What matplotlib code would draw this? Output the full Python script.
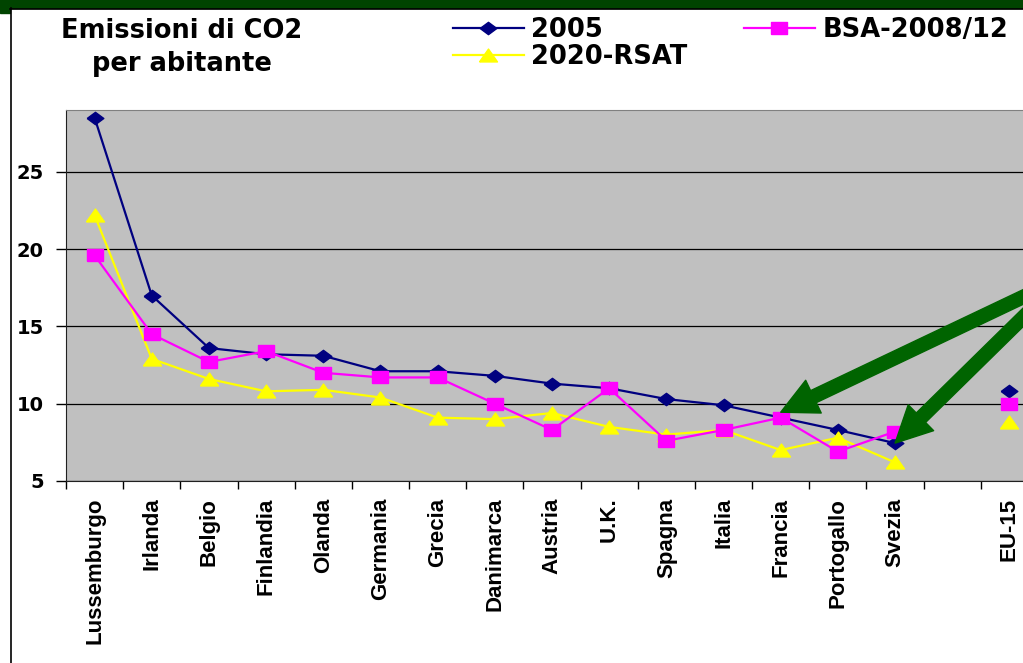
import numpy as np
import matplotlib.pyplot as plt
from matplotlib.patches import Rectangle
from matplotlib.lines import Line2D

paesi = ["Lussemburgo", "Irlanda", "Belgio", "Finlandia", "Olanda", "Germania",
         "Grecia", "Danimarca", "Austria", "U.K.", "Spagna", "Italia", "Francia",
         "Portogallo", "Svezia", "", "EU-15"]
v2005 = [28.5, 17.0, 13.6, 13.2, 13.1, 12.1, 12.1, 11.8, 11.3, 11.0, 10.3, 9.9,
         9.1, 8.3, 7.45, np.nan, 10.8]
bsa = [19.6, 14.5, 12.7, 13.4, 12.0, 11.7, 11.7, 10.0, 8.3, 11.0, 7.6, 8.3,
       9.1, 6.9, 8.2, np.nan, 10.0]
rsat = [22.2, 12.9, 11.6, 10.8, 10.9, 10.4, 9.1, 9.0, 9.4, 8.5, 8.0, 8.3,
        7.0, 7.8, 6.2, np.nan, 8.8]

plt.rcParams['font.family'] = ['Liberation Sans', 'DejaVu Sans']
largo = ['DejaVu Sans']  # testi spaziati (titolo, legenda, asse y)

# markers a bit wider than tall, like the original picture
diam = [(-1.35, 0), (0, 1), (1.35, 0), (0, -1), (-1.35, 0)]
quad = [(-1.35, -1), (1.35, -1), (1.35, 1), (-1.35, 1), (-1.35, -1)]
tri = [(-1.4, -1), (1.4, -1), (0, 1), (-1.4, -1)]

fig = plt.figure(figsize=(10.23, 6.63), dpi=100)
W, H = 1023, 663

# cornice verde in alto + bordo nero
fig.patches.append(Rectangle((0, 1 - 8 / H), 1, 8 / H, transform=fig.transFigure,
                             color='#004400', zorder=0))
fig.patches.append(Rectangle((0, 1 - 13 / H), 10 / W, 13 / H, transform=fig.transFigure,
                             color='#004400', zorder=0))
fig.lines.append(Line2D([10.5 / W, 10.5 / W], [0, 1 - 8 / H], transform=fig.transFigure,
                        color='black', lw=1.2))
fig.lines.append(Line2D([10 / W, 1], [1 - 8.5 / H, 1 - 8.5 / H], transform=fig.transFigure,
                        color='black', lw=1.2))

ax = fig.add_axes([66 / W, 1 - 481 / H, 972 / W, 371 / H])
ax.set_facecolor('#C0C0C0')

x = np.arange(len(paesi))
ax.plot(x, v2005, color='#000080', lw=1.6, marker=diam, ms=12, label='2005', zorder=3)
ax.plot(x, rsat, color='#FFFF00', lw=1.6, marker=tri, ms=13, label='2020-RSAT', zorder=4)
ax.plot(x, bsa, color='#FF00FF', lw=1.6, marker=quad, ms=12, label='BSA-2008/12', zorder=5)

ax.set_xlim(-0.5, len(paesi) - 0.5)
ax.set_ylim(5, 29)
ax.set_yticks([5, 10, 15, 20, 25])
ax.yaxis.grid(True, color='black', lw=0.9)
ax.set_axisbelow(True)
ax.tick_params(axis='y', length=7, width=1, labelsize=14, pad=9)
for t in ax.get_yticklabels():
    t.set_fontweight('bold')
    t.set_family(largo)

ax.set_xticks(np.arange(len(paesi) + 1) - 0.5)
ax.set_xticklabels([])
ax.tick_params(axis='x', which='major', length=6, width=1)
ax.set_xticks(x, minor=True)
ax.set_xticklabels(paesi, minor=True, rotation=90, fontsize=16, fontweight='bold', va='top')
ax.tick_params(axis='x', which='minor', length=0, pad=12)

ax.spines['top'].set_color('#808080')
ax.spines['right'].set_visible(False)
ax.spines['left'].set_color('#202020')
ax.spines['bottom'].set_color('#202020')

# frecce verdi
frecce = [(12, bsa[12] + 0.35, (1063, H - 278)), (14, v2005[14], (1053, H - 288))]
for xi, yi, coda in frecce:
    ax.annotate('', xy=(xi, yi), xycoords='data', xytext=coda, textcoords='figure pixels',
                arrowprops=dict(arrowstyle='simple, head_length=0.9, head_width=0.9, tail_width=0.33',
                                color='#006400', mutation_scale=29, shrinkA=0, shrinkB=0),
                annotation_clip=False, zorder=6)

fig.text(182 / W, 1 - 31 / H, 'Emissioni di CO2', ha='center', va='center',
         fontsize=18.5, fontweight='bold', family=largo)
fig.text(182 / W, 1 - 64 / H, 'per abitante', ha='center', va='center',
         fontsize=18.5, fontweight='bold', family=largo)

h, l = ax.get_legend_handles_labels()
leg = fig.legend(h, l, ncol=2,
                 loc='upper left', bbox_to_anchor=(453 / W, 1 - 17 / H),
                 frameon=False, handlelength=2.75, handletextpad=0.3,
                 columnspacing=2.2, labelspacing=0.05, borderpad=0, borderaxespad=0,
                 prop=dict(size=18.5, weight='bold', family=largo))

fig.savefig('out.png', dpi=100)
